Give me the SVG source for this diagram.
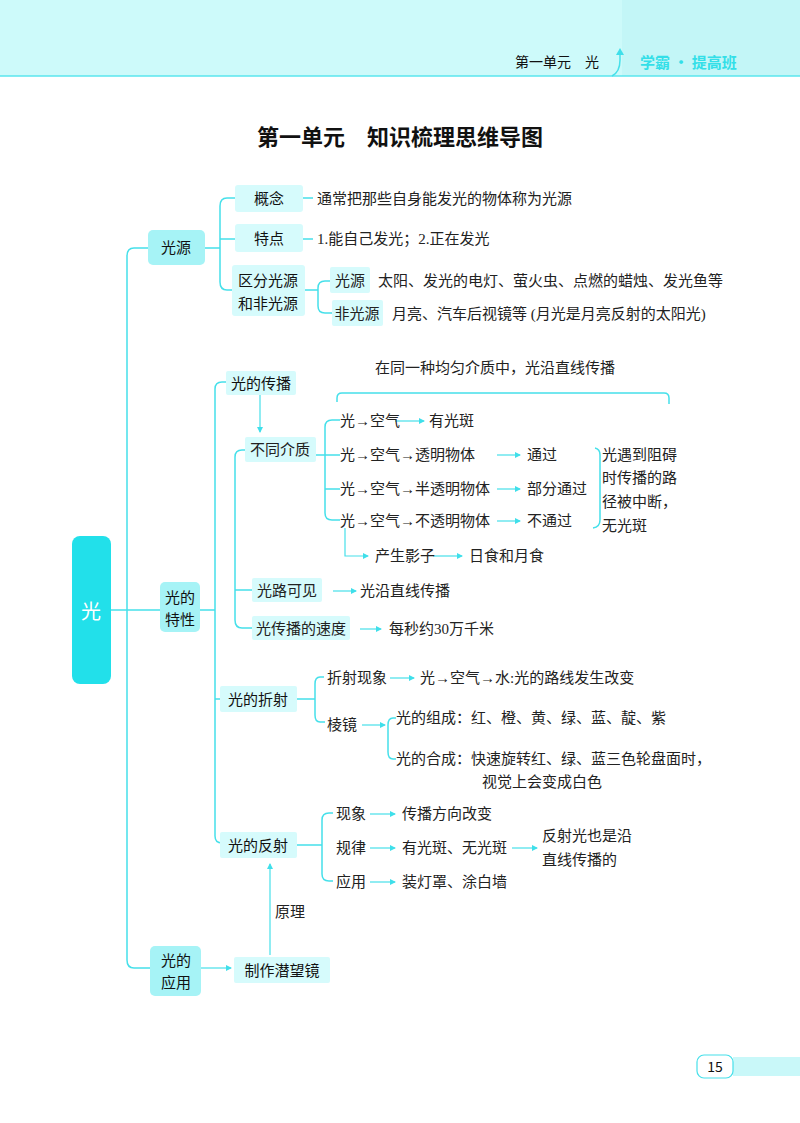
<svg xmlns="http://www.w3.org/2000/svg" width="800" height="1123" viewBox="0 0 800 1123">
<defs>
<marker id="ar" markerWidth="6" markerHeight="6" refX="5" refY="3" orient="auto" markerUnits="userSpaceOnUse"><path d="M0,0 L6,3 L0,6 Z" fill="#3fdfea"/></marker>
<style>
text{font-family:"Liberation Serif","Noto Sans CJK SC",serif;font-size:15px;fill:#222}
.b{font-family:"Noto Sans CJK SC",sans-serif;font-size:15px;fill:#111}
.ln{fill:none;stroke:#46e0ea;stroke-width:1.5}
.a{fill:none;stroke:#46e0ea;stroke-width:1.2;marker-end:url(#ar)}
.bx{fill:#d6fbfc}
.bx2{fill:#a6f3f6}
</style>
</defs>
<rect x="0" y="0" width="800" height="76" fill="#cdfafa"/>
<rect x="622" y="0" width="178" height="76" fill="#c3f6f7"/>
<line x1="0" y1="76" x2="800" y2="76" stroke="#5ae6ee" stroke-width="1.5"/>
<text x="515" y="67" class="b" style="font-size:14px">第一单元　光</text>
<path d="M612,76 Q620,72 620,60 L620,52" class="ln"/>
<path d="M616,55 L620,48 L624,55 Z" fill="#3fdfea"/>
<text x="640" y="68" class="b" style="font-size:15px;font-weight:bold;fill:#33dfe8">学霸 · 提高班</text>
<text x="400" y="145" text-anchor="middle" class="b" style="font-size:22px;font-weight:bold">第一单元　知识梳理思维导图</text>

<g id="connectors">
<path d="M148,248 H134 Q127,248 127,256 V960 Q127,968 134,968 H150" class="ln"/>
<line x1="111" y1="610" x2="160" y2="610" class="ln"/>
<path d="M205,248 H220 M235,198 H227 Q220,198 220,206 V282 Q220,290 227,290 H232 M220,239 H235" class="ln"/>
<path d="M303,198 H313 M303,239 H313" class="ln"/>
<path d="M305,290 H318 M330,281 H325 Q318,281 318,288 V306 Q318,313 325,313 H332" class="ln"/>
<path d="M200,610 H215 M226,382 H222 Q215,382 215,389 V836 Q215,843 222,843 H220 M215,699 H220" class="ln"/>
<line x1="260" y1="395" x2="260" y2="432" class="a"/>
<path d="M245,450 H242 Q235,450 235,457 V620 Q235,628 242,628 H252 M235,590 H252" class="ln"/>
<line x1="333" y1="591" x2="356" y2="591" class="a"/>
<line x1="360" y1="629" x2="381" y2="629" class="a"/>
<path d="M337,402 V398 Q337,393 342,393 H664 Q669,393 669,398 V404" class="ln"/>
<path d="M340,420 H332 Q325,420 325,427 V513 Q325,520 332,520 H340 M316,455 H340 M325,489 H340" class="ln"/>
<line x1="395" y1="421" x2="424" y2="421" class="a"/>
<line x1="497" y1="455" x2="520" y2="455" class="a"/>
<line x1="497" y1="489" x2="520" y2="489" class="a"/>
<line x1="497" y1="521" x2="520" y2="521" class="a"/>
<path d="M595,448 Q600,449 600,455 V520 Q600,527 593,528" class="ln"/>
<path d="M345,528 V556 H368" class="a"/>
<line x1="433" y1="556" x2="462" y2="556" class="a"/>
<path d="M297,699 H315 M324,677 H320 Q315,677 315,684 V715 Q315,722 320,722 H325" class="ln"/>
<line x1="390" y1="678" x2="414" y2="678" class="a"/>
<line x1="362" y1="725" x2="385" y2="725" class="a"/>
<path d="M396,718 H393 Q388,718 388,725 V752 Q388,759 393,759 H396" class="ln"/>
<path d="M297,845 H322 M333,813 H329 Q322,813 322,820 V874 Q322,881 329,881 H333" class="ln"/>
<line x1="370" y1="814" x2="395" y2="814" class="a"/>
<line x1="370" y1="848" x2="395" y2="848" class="a"/>
<line x1="370" y1="882" x2="395" y2="882" class="a"/>
<line x1="512" y1="848" x2="537" y2="848" class="a"/>
<line x1="270" y1="955" x2="270" y2="864" class="a"/>
<line x1="201" y1="968" x2="231" y2="968" class="a"/>
</g>

<g id="n-guang"><rect x="72" y="536" width="39" height="148" rx="8" fill="#22e0ea"/><text x="91" y="619" text-anchor="middle" class="b" style="font-size:20px;fill:#fff">光</text></g>
<g id="n-gy"><rect x="148" y="230" width="57" height="35" rx="5" class="bx2"/><text x="176" y="253" text-anchor="middle" class="b">光源</text></g>
<g id="n-gn"><rect x="235" y="185" width="68" height="27" rx="3" class="bx"/><text x="269" y="204" text-anchor="middle" class="b">概念</text><text x="317" y="204">通常把那些自身能发光的物体称为光源</text></g>
<g id="n-td"><rect x="235" y="224" width="68" height="28" rx="3" class="bx"/><text x="269" y="244" text-anchor="middle" class="b">特点</text><text x="317" y="244">1.能自己发光；2.正在发光</text></g>
<g id="n-qf"><rect x="232" y="265" width="73" height="51" rx="3" class="bx"/><text x="268" y="286" text-anchor="middle" class="b">区分光源</text><text x="268" y="309" text-anchor="middle" class="b">和非光源</text></g>
<g id="n-gy2"><rect x="330" y="267" width="40" height="26" rx="2" class="bx"/><text x="350" y="286" text-anchor="middle">光源</text><text x="378" y="286">太阳、发光的电灯、萤火虫、点燃的蜡烛、发光鱼等</text></g>
<g id="n-fgy"><rect x="332" y="300" width="51" height="26" rx="2" class="bx"/><text x="357" y="319" text-anchor="middle">非光源</text><text x="392" y="319">月亮、汽车后视镜等 (月光是月亮反射的太阳光)</text></g>

<g id="n-tx"><rect x="160" y="582" width="40" height="50" rx="5" class="bx2"/><text x="180" y="603" text-anchor="middle" class="b">光的</text><text x="180" y="625" text-anchor="middle" class="b">特性</text></g>
<g id="n-cb"><rect x="226" y="371" width="70" height="24" rx="2" class="bx"/><text x="261" y="389" text-anchor="middle" class="b">光的传播</text></g>
<text x="495" y="373" text-anchor="middle">在同一种均匀介质中，光沿直线传播</text>
<g id="n-bt"><rect x="245" y="437" width="71" height="25" rx="2" class="bx"/><text x="280" y="455" text-anchor="middle">不同介质</text></g>
<text x="340" y="426">光→空气</text><text x="429" y="426">有光斑</text>
<text x="340" y="460">光→空气→透明物体</text><text x="527" y="460">通过</text>
<text x="340" y="494">光→空气→半透明物体</text><text x="527" y="494">部分通过</text>
<text x="340" y="526">光→空气→不透明物体</text><text x="527" y="526">不通过</text>
<text x="602" y="460">光遇到阻碍</text><text x="602" y="483">时传播的路</text><text x="602" y="507">径被中断，</text><text x="602" y="531">无光斑</text>
<text x="375" y="561">产生影子</text><text x="469" y="561">日食和月食</text>
<g id="n-gl"><rect x="252" y="578" width="70" height="24" rx="2" class="bx"/><text x="287" y="596" text-anchor="middle">光路可见</text><text x="360" y="596">光沿直线传播</text></g>
<g id="n-sd"><rect x="252" y="616" width="98" height="24" rx="2" class="bx"/><text x="301" y="634" text-anchor="middle">光传播的速度</text><text x="389" y="634">每秒约30万千米</text></g>

<g id="n-zs"><rect x="220" y="686" width="77" height="26" rx="2" class="bx"/><text x="258" y="705" text-anchor="middle" class="b">光的折射</text></g>
<text x="327" y="683">折射现象</text><text x="420" y="683">光→空气→水:光的路线发生改变</text>
<text x="327" y="730">棱镜</text>
<text x="396" y="723">光的组成：红、橙、黄、绿、蓝、靛、紫</text>
<text x="396" y="764">光的合成：快速旋转红、绿、蓝三色轮盘面时，</text>
<text x="482" y="787">视觉上会变成白色</text>

<g id="n-fs"><rect x="220" y="832" width="77" height="26" rx="2" class="bx"/><text x="258" y="851" text-anchor="middle" class="b">光的反射</text></g>
<text x="336" y="819">现象</text><text x="402" y="819">传播方向改变</text>
<text x="336" y="853">规律</text><text x="402" y="853">有光斑、无光斑</text>
<text x="542" y="841">反射光也是沿</text><text x="542" y="865">直线传播的</text>
<text x="336" y="887">应用</text><text x="402" y="887">装灯罩、涂白墙</text>
<text x="275" y="917">原理</text>

<g id="n-yy"><rect x="150" y="946" width="51" height="50" rx="5" class="bx2"/><text x="176" y="966" text-anchor="middle" class="b">光的</text><text x="176" y="988" text-anchor="middle" class="b">应用</text></g>
<g id="n-qwj"><rect x="234" y="957" width="96" height="26" rx="2" class="bx"/><text x="282" y="976" text-anchor="middle" class="b">制作潜望镜</text></g>

<rect x="733" y="1057" width="67" height="19" fill="#c9f8f9"/>
<rect x="697" y="1055" width="36" height="23" rx="7" fill="#fff" stroke="#46e0ea" stroke-width="1.2"/>
<text x="715" y="1072" text-anchor="middle" class="b" style="font-size:14px">15</text>
</svg>
